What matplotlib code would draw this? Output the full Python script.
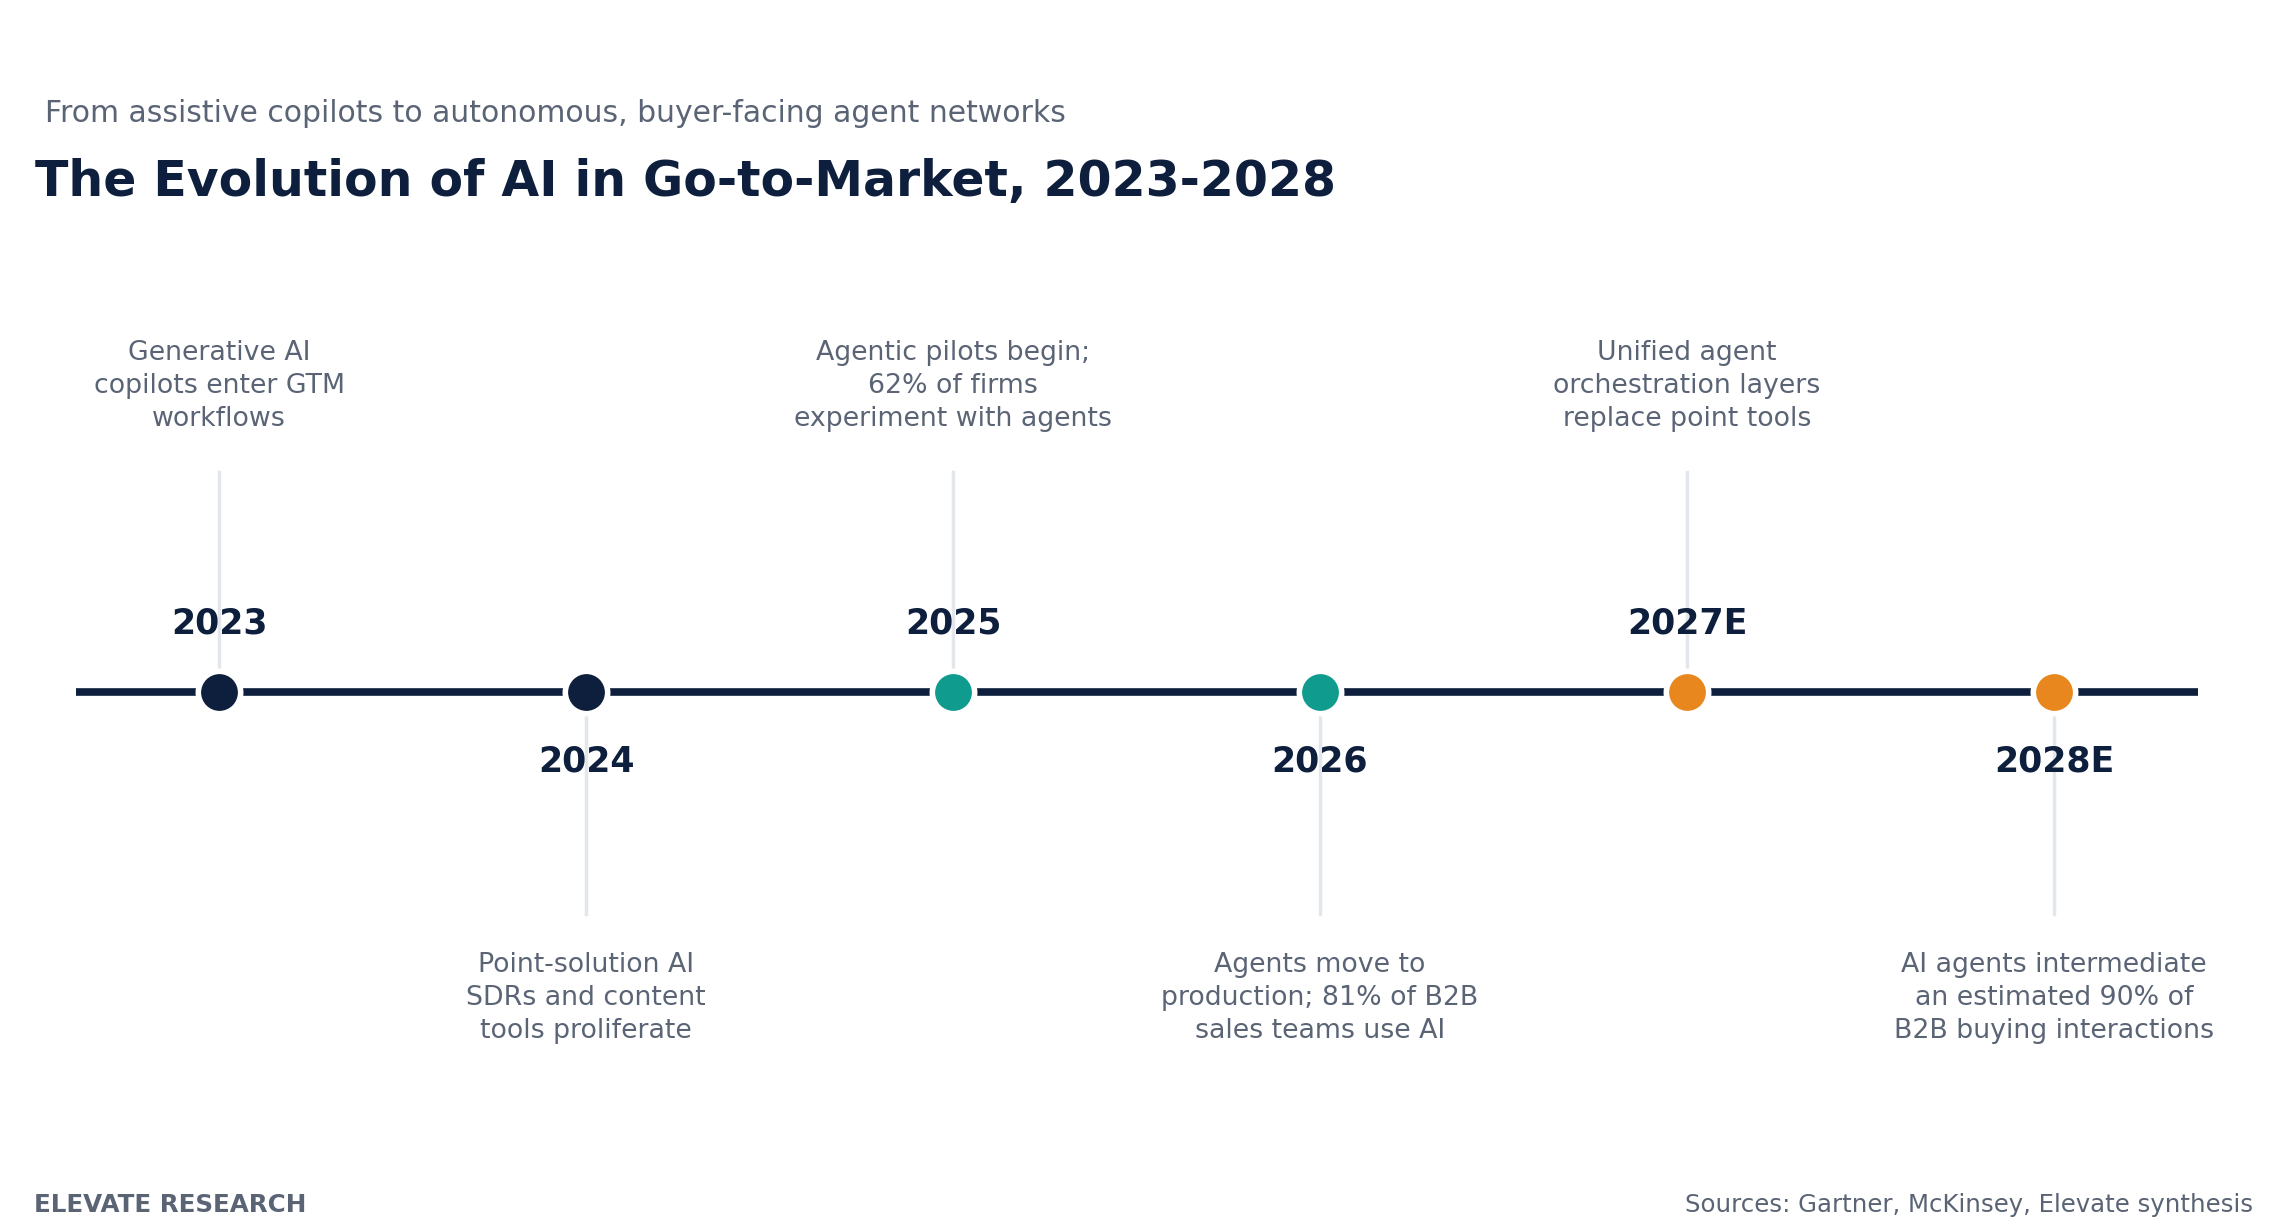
import matplotlib.pyplot as plt

# timeline data
years = ["2023", "2024", "2025", "2026", "2027E", "2028E"]
descriptions = [
    "Generative AI\ncopilots enter GTM\nworkflows",
    "Point-solution AI\nSDRs and content\ntools proliferate",
    "Agentic pilots begin;\n62% of firms\nexperiment with agents",
    "Agents move to\nproduction; 81% of B2B\nsales teams use AI",
    "Unified agent\norchestration layers\nreplace point tools",
    "AI agents intermediate\nan estimated 90% of\nB2B buying interactions",
]
dot_colors = ["#0d1f3c", "#0d1f3c", "#0f9b8e", "#0f9b8e", "#e8871e", "#e8871e"]

NAVY = "#0d1f3c"
GRAY = "#5a6475"
LIGHT = "#e3e6eb"

W, H = 2288, 1232
fig = plt.figure(figsize=(W / 100, H / 100), dpi=100)
ax = fig.add_axes([0, 0, 1, 1])
step = 367
ax.set_xlim(-219 / step, 5 + (W - 2054) / step)
ax.set_ylim(H, 0)
ax.axis("off")

line_y = 692
xs = list(range(len(years)))

ax.plot([-0.39, xs[-1] + 0.392], [line_y, line_y], color=NAVY, lw=5.5,
        solid_capstyle="butt", zorder=2)

for i, (yr, desc, c) in enumerate(zip(years, descriptions, dot_colors)):
    above = i % 2 == 0
    if above:
        ax.plot([i, i], [472, 671], color=LIGHT, lw=2.5, zorder=1)
        ax.text(i, 623, yr, ha="center", va="center", fontsize=25,
                fontweight="bold", color=NAVY, zorder=3)
        ax.text(i, 386, desc, ha="center", va="center", fontsize=19.3,
                color=GRAY, linespacing=1.33)
    else:
        ax.plot([i, i], [714, 914], color=LIGHT, lw=2.5, zorder=1)
        ax.text(i, 761, yr, ha="center", va="center", fontsize=25,
                fontweight="bold", color=NAVY, zorder=3)
        ax.text(i, 998, desc, ha="center", va="center", fontsize=19.3,
                color=GRAY, linespacing=1.33)
    ax.scatter([i], [line_y], s=930, color=c, edgecolors="white",
               linewidths=4, zorder=4)

fig.text(45 / W, 1 - 113 / H, "From assistive copilots to autonomous, buyer-facing agent networks",
         ha="left", va="center", fontsize=21.5, color=GRAY)
fig.text(35 / W, 1 - 182 / H, "The Evolution of AI in Go-to-Market, 2023-2028",
         ha="left", va="center", fontsize=35.2, fontweight="bold", color=NAVY)
fig.text(34 / W, 1 - 1205 / H, "ELEVATE RESEARCH", ha="left", va="center",
         fontsize=17.7, fontweight="bold", color=GRAY)
fig.text(2253 / W, 1 - 1205 / H, "Sources: Gartner, McKinsey, Elevate synthesis",
         ha="right", va="center", fontsize=17.6, color=GRAY)

fig.savefig("out.png", dpi=100, facecolor="white")
